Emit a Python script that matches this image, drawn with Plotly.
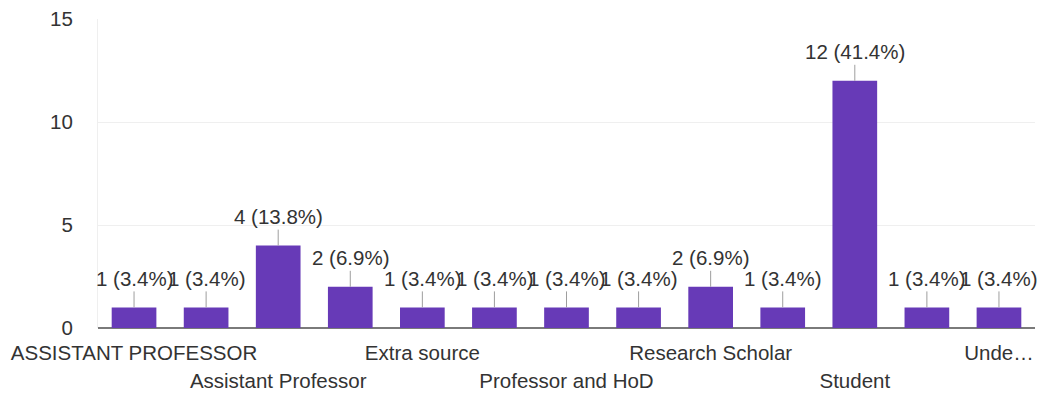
import plotly.graph_objects as go

# counts per response (sorted as in the form summary)
counts = [1, 1, 4, 2, 1, 1, 1, 1, 2, 1, 12, 1, 1]
# tick labels that are actually visible; the chart skips every other one
labels_row1 = ["ASSISTANT PROFESSOR", "Extra source", "Research Scholar", "Unde…"]
labels_row2 = ["Assistant Professor", "Professor and HoD", "Student"]
row1_idx = [0, 4, 8, 12]
row2_idx = [2, 6, 10]

total = sum(counts)
bar_text = [f"{c} ({c / total * 100:.1f}%)" for c in counts]
x = list(range(len(counts)))

FONT = "Liberation Sans, Arial, sans-serif"
FS = 20.5
TXT = "#333333"
PURPLE = "#673ab7"

fig = go.Figure()
fig.add_trace(go.Bar(x=x, y=counts, marker=dict(color=PURPLE, line=dict(width=0)),
                     width=0.62, hoverinfo="skip", showlegend=False))
# empty trace so the second (lower row) x axis gets drawn
fig.add_trace(go.Scatter(x=[], y=[], xaxis="x2", showlegend=False))

annotations = []
for xi, c, t in zip(x, counts, bar_text):
    annotations.append(dict(
        x=xi, y=c, xref="x", yref="y", text=t,
        showarrow=True, arrowhead=0, arrowwidth=1, arrowcolor="#9e9e9e",
        ax=0, ay=-29, font=dict(family=FONT, size=FS, color=TXT),
    ))

fig.update_layout(
    width=1038, height=394,
    margin=dict(l=98, r=3, t=19, b=66),
    paper_bgcolor="white", plot_bgcolor="white",
    annotations=annotations,
    xaxis=dict(
        range=[-0.5, 12.5], tickvals=row1_idx, ticktext=labels_row1,
        tickfont=dict(family=FONT, size=FS, color=TXT),
        showgrid=False, zeroline=False, showline=False, ticks="",
        ticklabelstandoff=10, automargin=False,
    ),
    xaxis2=dict(
        overlaying="x", side="bottom", anchor="y",
        range=[-0.5, 12.5], tickvals=row2_idx, ticktext=labels_row2,
        tickfont=dict(family=FONT, size=FS, color=TXT),
        showgrid=False, zeroline=False, showline=False, ticks="",
        ticklabelstandoff=38, automargin=False,
    ),
    yaxis=dict(
        range=[0, 15], tickvals=[0, 5, 10, 15],
        tickfont=dict(family=FONT, size=FS, color=TXT),
        showgrid=True, gridcolor="#efefef", gridwidth=1,
        zeroline=True, zerolinecolor="#7a7a7a", zerolinewidth=1.5,
        showline=True, linecolor="#efefef", linewidth=1,
        ticks="", ticklabelstandoff=20, automargin=False,
    ),
)

# page body has an 8px default margin, drop it so the figure sits at 0,0
fig.write_html("out.html", config={"displayModeBar": False},
               post_script="document.body.style.margin='0';")
